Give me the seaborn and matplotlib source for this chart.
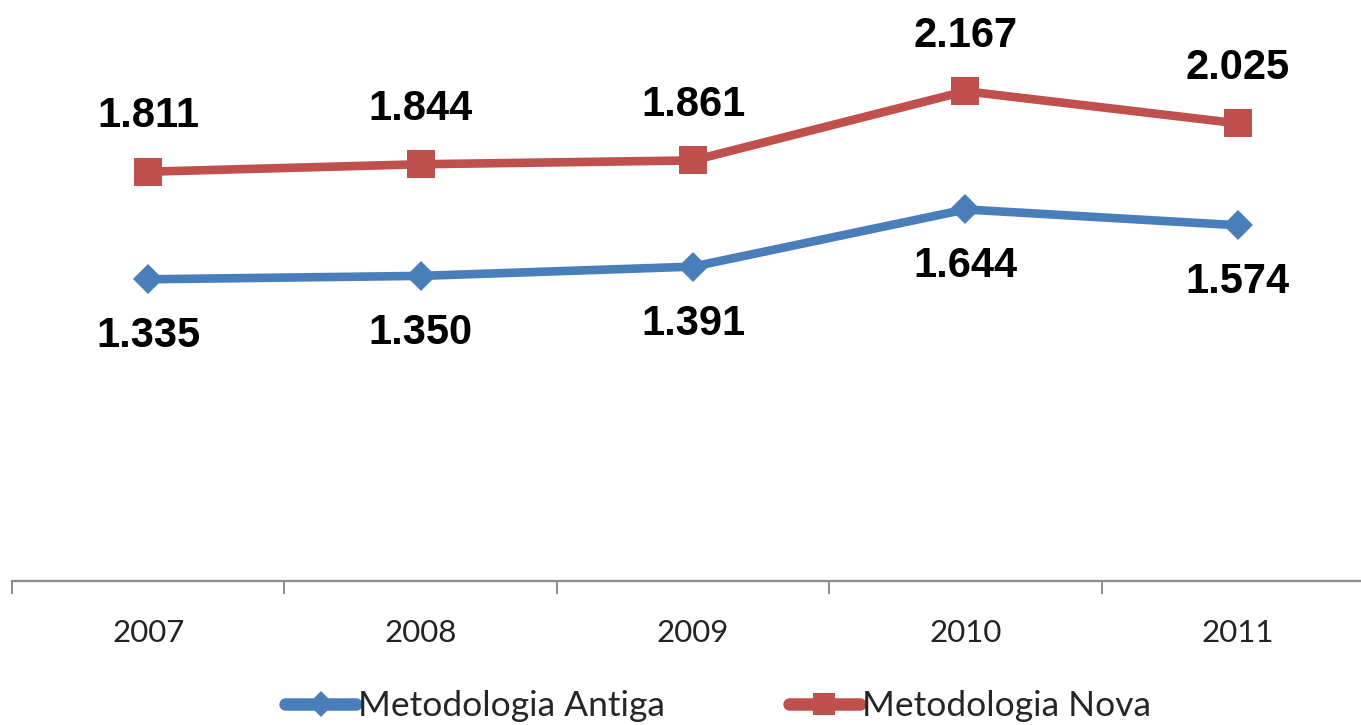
import matplotlib
matplotlib.use("Agg")
import matplotlib.pyplot as plt
import seaborn as sns
import pandas as pd
from matplotlib.lines import Line2D

years = ["2007", "2008", "2009", "2010", "2011"]
antiga = [1.335, 1.350, 1.391, 1.644, 1.574]
nova = [1.811, 1.844, 1.861, 2.167, 2.025]
series_names = ["Metodologia Antiga", "Metodologia Nova"]

BLUE = "#4A7EBB"
RED = "#C0504D"

sns.set_theme(style="white")
plt.rcParams["font.family"] = ["Liberation Sans", "DejaVu Sans"]

rows = []
for name, vals in zip(series_names, [antiga, nova]):
    for i, (y, v) in enumerate(zip(years, vals)):
        rows.append({"pos": i, "year": y, "value": v, "serie": name})
df = pd.DataFrame(rows)

fig = plt.figure(figsize=(13.61, 7.25), dpi=100)
ax = fig.add_axes([12 / 1361, 1 - 581 / 725, 1362 / 1361, 565 / 725])

sns.lineplot(data=df, x="pos", y="value", hue="serie", style="serie",
             palette={series_names[0]: BLUE, series_names[1]: RED},
             markers={series_names[0]: "D", series_names[1]: "s"},
             dashes=False, linewidth=6.2, markersize=17,
             markeredgewidth=0, legend=False, ax=ax)

for line in ax.get_lines():
    if line.get_marker() == "s":
        line.set_markersize(20)
    elif line.get_marker() == "D":
        line.set_markersize(15.5)

ax.set_xlim(-0.5, 4.5)
ax.set_ylim(0, 2.5)

for i, v in enumerate(nova):
    ax.annotate(f"{v:.3f}", (i, v), xytext=(0, 40), textcoords="offset points",
                ha="center", va="center", fontsize=30, fontweight="bold",
                color="black")
for i, v in enumerate(antiga):
    ax.annotate(f"{v:.3f}", (i, v), xytext=(0, -41), textcoords="offset points",
                ha="center", va="center", fontsize=30, fontweight="bold",
                color="black")

for s in ["top", "right", "left"]:
    ax.spines[s].set_visible(False)
ax.spines["bottom"].set_color("#8C8C8C")
ax.spines["bottom"].set_linewidth(1.6)

ax.set_yticks([])
ax.set_xticks(range(len(years)))
ax.set_xticklabels(years, fontsize=22.5, family=["Lato", "DejaVu Sans"], color="#222222")
ax.tick_params(axis="x", which="major", length=0, pad=27)
ax.set_xticks([i - 0.5 for i in range(len(years) + 1)], minor=True)
ax.tick_params(axis="x", which="minor", length=9, width=1.4, color="#8C8C8C", bottom=True)
ax.set_xlabel("")
ax.set_ylabel("")

handles = [
    Line2D([0], [0], color=BLUE, lw=9, marker="D", markersize=13, markeredgewidth=0),
    Line2D([0], [0], color=RED, lw=9, marker="s", markersize=16, markeredgewidth=0),
]
fig.legend(handles, series_names, loc="center", bbox_to_anchor=(718 / 1361, 1 - 706 / 725),
           ncol=2, frameon=False, handlelength=2.0, handletextpad=0.05,
           columnspacing=3.5, prop={"family": ["Lato", "DejaVu Sans"], "size": 25.5})

fig.savefig("out.png", dpi=100, facecolor="white")
